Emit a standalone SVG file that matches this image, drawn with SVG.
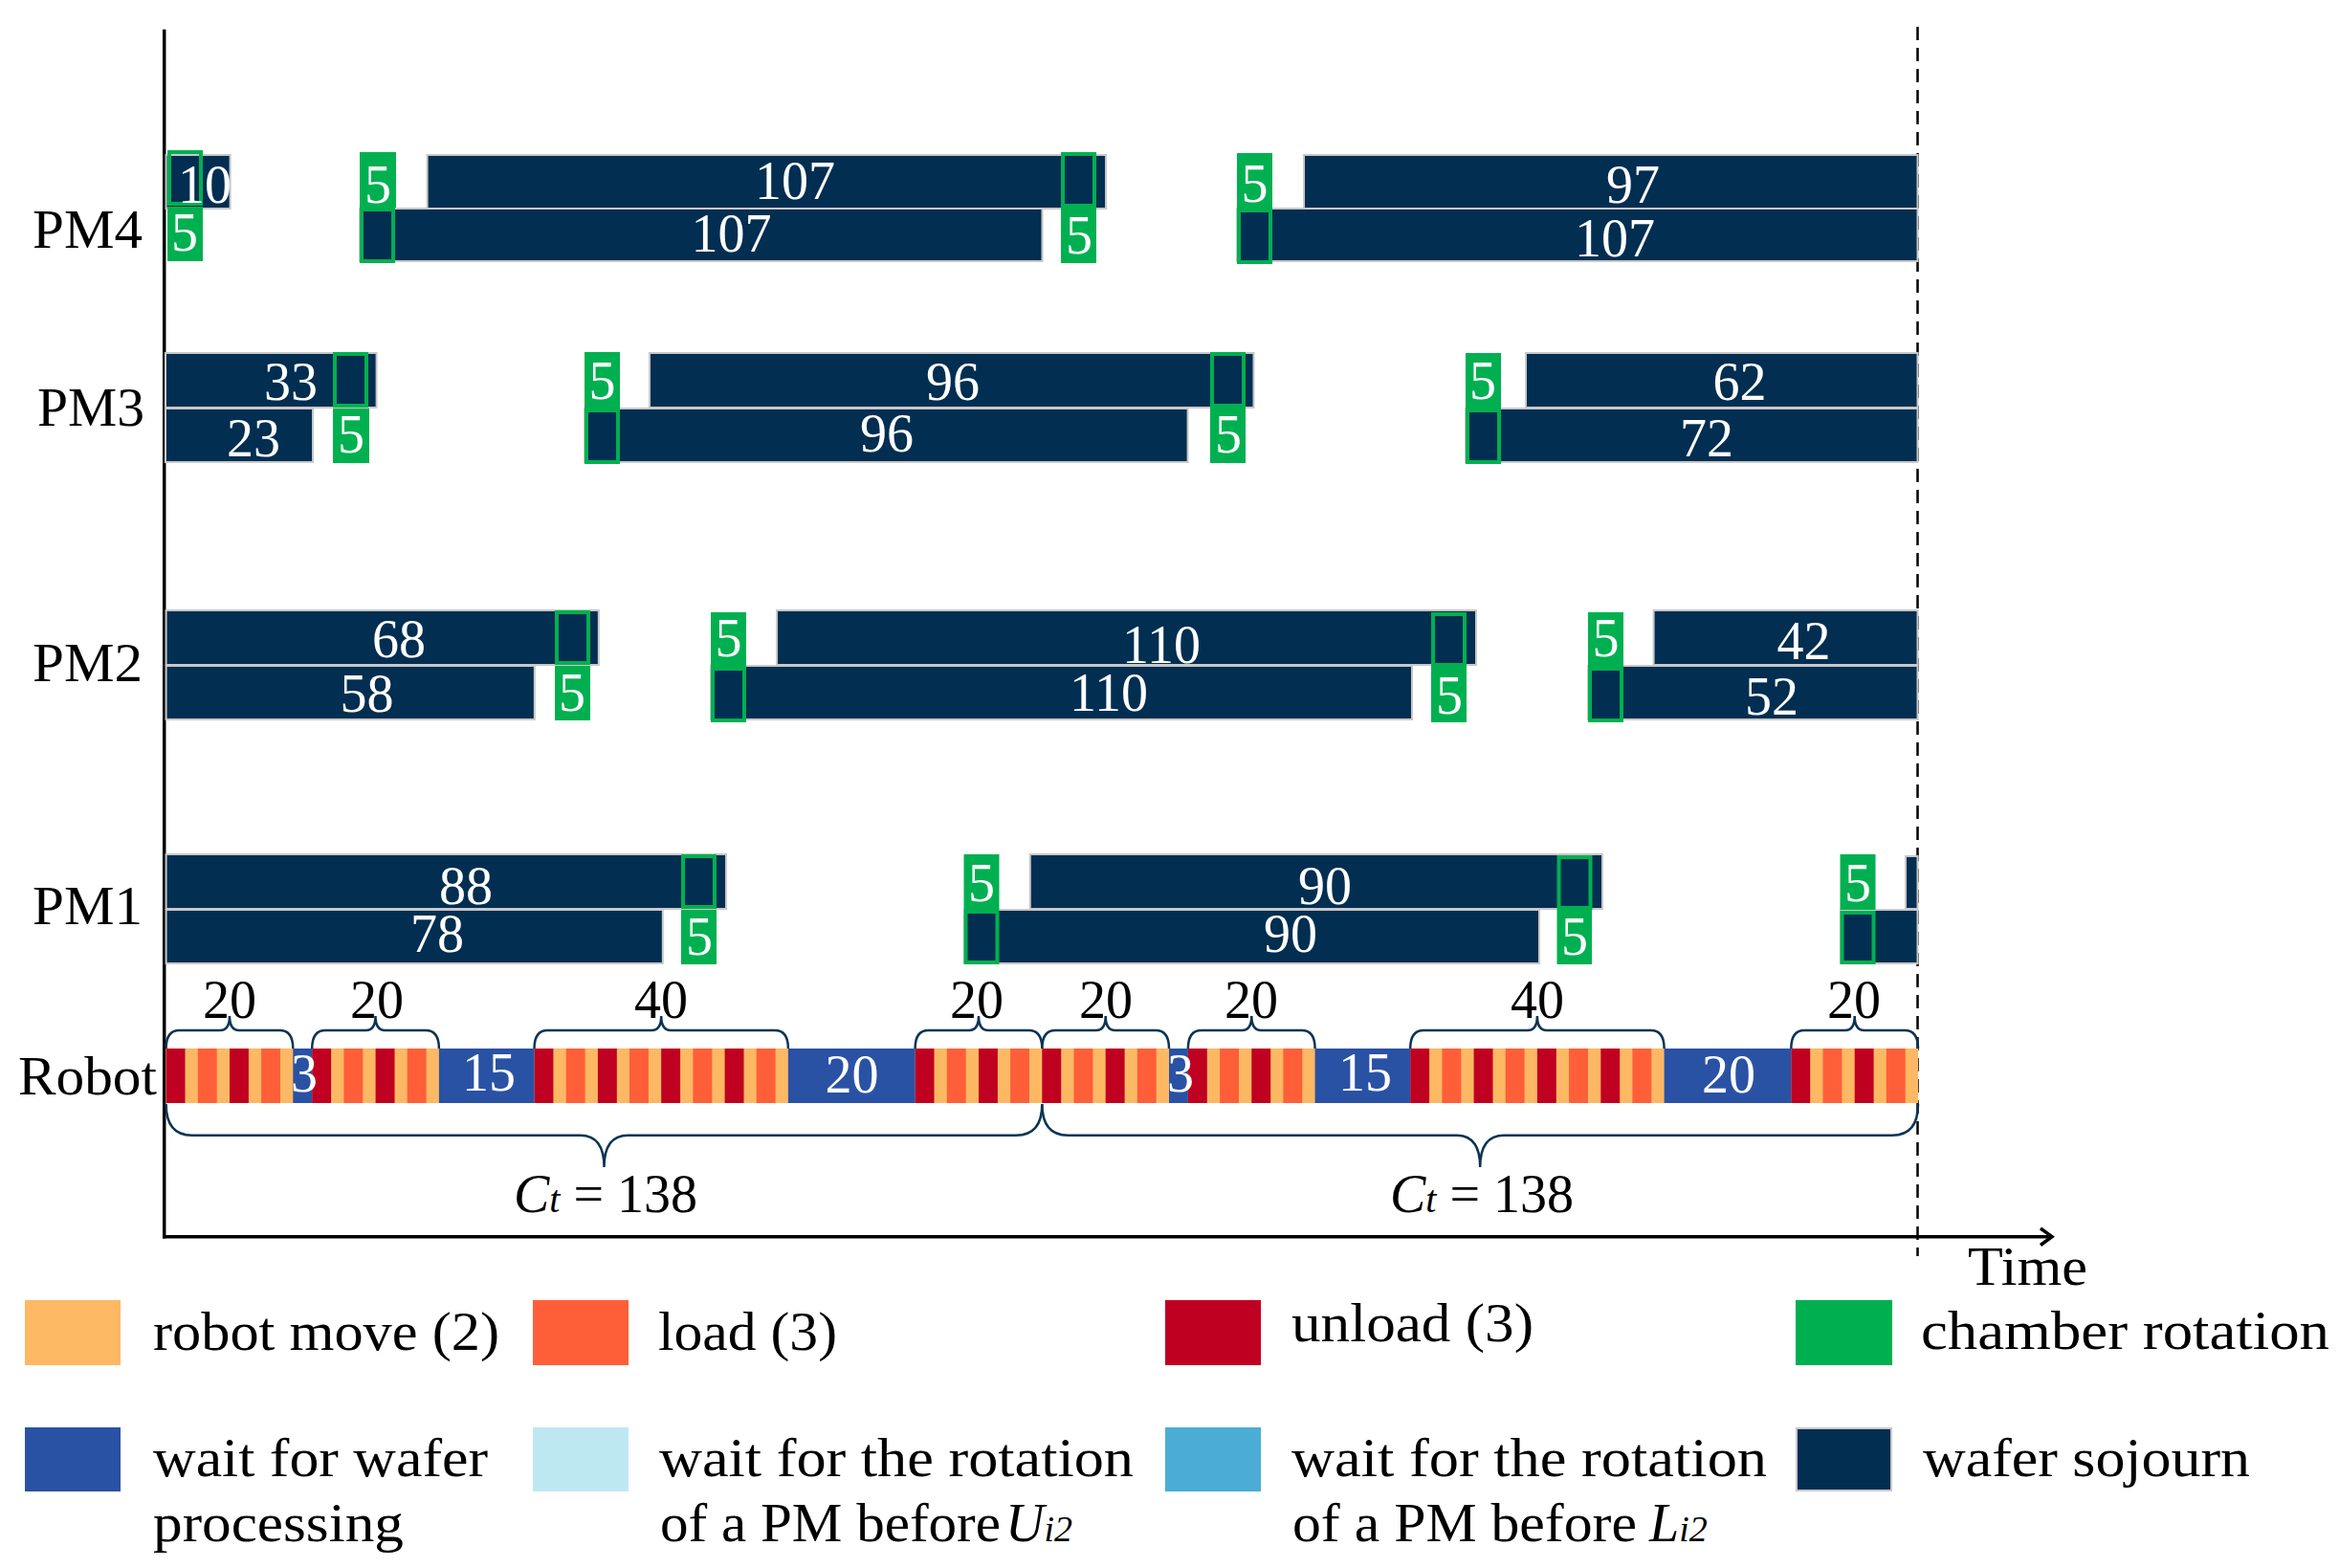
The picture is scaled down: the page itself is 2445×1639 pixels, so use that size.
<svg xmlns="http://www.w3.org/2000/svg" width="2445" height="1639" viewBox="0 0 2445 1639">
<style>
text{font-family:"Liberation Serif","Times New Roman",serif;font-size:56px;fill:#000}
.w{fill:#fff;text-anchor:middle}
.c{text-anchor:middle}
.sj{fill:#022E51;stroke:#C8C8C8;stroke-width:2}
.gr{fill:#00B050}
.go{fill:none;stroke:#00B050;stroke-width:4}
.mv{fill:#FDB863}
.ld{fill:#FF5F38}
.ul{fill:#C00021}
.wt{fill:#2A52A4}
.wu{fill:#BEE8F1}
.wl{fill:#4BADD5}
.br{fill:none;stroke:#0B3454;stroke-width:2.5}
.ax{fill:none;stroke:#000;stroke-width:3.5}
</style>
<rect width="2445" height="1639" fill="#fff"/>

<g id="axes">
<line class="ax" x1="171.7" y1="30.7" x2="171.7" y2="1294.5"/>
<line class="ax" x1="170" y1="1292.7" x2="2145" y2="1292.7"/>
<polyline class="ax" points="2133,1284 2145,1292.7 2133,1301.5"/>
<line x1="2004.5" y1="28" x2="2004.5" y2="1313" stroke="#000" stroke-width="2.5" stroke-dasharray="14 8"/>
<text x="2057" y="1343" textLength="125" lengthAdjust="spacingAndGlyphs">Time</text>
</g>

<g id="labels">
<text x="34" y="259" textLength="115" lengthAdjust="spacingAndGlyphs">PM4</text>
<text x="39" y="445" textLength="112" lengthAdjust="spacingAndGlyphs">PM3</text>
<text x="34" y="712" textLength="115" lengthAdjust="spacingAndGlyphs">PM2</text>
<text x="34" y="966" textLength="115" lengthAdjust="spacingAndGlyphs">PM1</text>
<text x="19" y="1144" textLength="145" lengthAdjust="spacingAndGlyphs">Robot</text>
</g>

<g id="pm4">
<rect class="sj" x="173.6" y="162" width="67" height="56"/>
<rect class="sj" x="446.6" y="162" width="709.4" height="56"/>
<rect class="sj" x="1363" y="162" width="641.5" height="56"/>
<rect class="sj" x="376" y="218" width="713.5" height="55"/>
<rect class="sj" x="1293" y="218" width="711.5" height="55"/>
<rect class="gr" x="175" y="216" width="37" height="57"/>
<rect class="gr" x="376" y="159" width="38" height="58"/>
<rect class="gr" x="1109" y="217" width="37" height="58"/>
<rect class="gr" x="1293" y="160" width="37" height="58"/>
<rect class="go" x="177" y="159" width="33" height="54"/>
<rect class="go" x="378" y="219" width="33" height="54"/>
<rect class="go" x="1111" y="161" width="33" height="54"/>
<rect class="go" x="1295" y="220" width="33" height="54"/>
<text class="w" x="214" y="212">10</text>
<text class="w" x="193" y="262">5</text>
<text class="w" x="395" y="212">5</text>
<text class="w" x="831" y="208">107</text>
<text class="w" x="764.5" y="263">107</text>
<text class="w" x="1128" y="265">5</text>
<text class="w" x="1311.5" y="211">5</text>
<text class="w" x="1707" y="212">97</text>
<text class="w" x="1688" y="268">107</text>
</g>

<g id="pm3">
<rect class="sj" x="173" y="369" width="220.6" height="57"/>
<rect class="sj" x="679" y="369" width="631.5" height="57"/>
<rect class="sj" x="1595" y="369" width="409.5" height="57"/>
<rect class="sj" x="173" y="427" width="154" height="56"/>
<rect class="sj" x="611" y="427" width="630.6" height="56"/>
<rect class="sj" x="1532" y="427" width="472.5" height="56"/>
<rect class="gr" x="348" y="427" width="38" height="57"/>
<rect class="gr" x="611" y="368" width="37" height="59"/>
<rect class="gr" x="1265" y="426" width="37" height="58"/>
<rect class="gr" x="1532" y="369" width="37" height="58"/>
<rect class="go" x="350" y="370" width="33" height="54"/>
<rect class="go" x="613" y="429" width="33" height="54"/>
<rect class="go" x="1267" y="370" width="33" height="54"/>
<rect class="go" x="1534" y="429" width="33" height="54"/>
<text class="w" x="304" y="418">33</text>
<text class="w" x="265" y="477">23</text>
<text class="w" x="367" y="473">5</text>
<text class="w" x="629.5" y="417">5</text>
<text class="w" x="996" y="418">96</text>
<text class="w" x="927" y="472">96</text>
<text class="w" x="1284" y="473">5</text>
<text class="w" x="1550" y="417">5</text>
<text class="w" x="1818.5" y="418">62</text>
<text class="w" x="1784" y="477">72</text>
</g>

<g id="pm2">
<rect class="sj" x="173.6" y="638" width="452.2" height="57"/>
<rect class="sj" x="812" y="638" width="731" height="57"/>
<rect class="sj" x="1728.6" y="638" width="275.9" height="57"/>
<rect class="sj" x="173.6" y="696" width="385.2" height="56"/>
<rect class="sj" x="743" y="696" width="733" height="56"/>
<rect class="sj" x="1660" y="696" width="344.5" height="56"/>
<rect class="gr" x="580" y="696" width="37" height="57"/>
<rect class="gr" x="743" y="640" width="37" height="57"/>
<rect class="gr" x="1496" y="697" width="37" height="58"/>
<rect class="gr" x="1660" y="640" width="37" height="57"/>
<rect class="go" x="582" y="640" width="33" height="53"/>
<rect class="go" x="745" y="699" width="33" height="54"/>
<rect class="go" x="1498" y="642" width="33" height="53"/>
<rect class="go" x="1662" y="699" width="33" height="54"/>
<text class="w" x="417" y="687">68</text>
<text class="w" x="383.6" y="744">58</text>
<text class="w" x="598" y="743">5</text>
<text class="w" x="761.5" y="686">5</text>
<text class="w" x="1214" y="693">110</text>
<text class="w" x="1159" y="743">110</text>
<text class="w" x="1515" y="746">5</text>
<text class="w" x="1678.5" y="686">5</text>
<text class="w" x="1885.5" y="689">42</text>
<text class="w" x="1852" y="747">52</text>
</g>

<g id="pm1">
<rect class="sj" x="173.6" y="893" width="585.4" height="57"/>
<rect class="sj" x="1076.8" y="893" width="598.2" height="57"/>
<rect class="sj" x="1992" y="895" width="12.5" height="55"/>
<rect class="sj" x="173.6" y="951" width="519.2" height="56"/>
<rect class="sj" x="1008" y="951" width="601" height="56"/>
<rect class="sj" x="1924" y="951" width="80.5" height="56"/>
<rect class="gr" x="712" y="951" width="37" height="57"/>
<rect class="gr" x="1007.5" y="893" width="37" height="58"/>
<rect class="gr" x="1627.5" y="951" width="36.5" height="57"/>
<rect class="gr" x="1923.5" y="893" width="37" height="58"/>
<rect class="go" x="714" y="895" width="33" height="53"/>
<rect class="go" x="1009.5" y="953" width="33" height="53"/>
<rect class="go" x="1629.5" y="896" width="33" height="53"/>
<rect class="go" x="1925.5" y="954" width="33" height="52"/>
<text class="w" x="487" y="945">88</text>
<text class="w" x="457" y="995">78</text>
<text class="w" x="731" y="998">5</text>
<text class="w" x="1026" y="942">5</text>
<text class="w" x="1385" y="945">90</text>
<text class="w" x="1349" y="995">90</text>
<text class="w" x="1646" y="998">5</text>
<text class="w" x="1942" y="942">5</text>
</g>

<g id="robot">
<rect class="mv" x="173.6" y="1096" width="831.4" height="57"/>
<rect class="mv" x="1005" y="1096" width="1000" height="57"/>
<g>
<rect class="ul" x="173.6" y="1096" width="19.9" height="57"/>
<rect class="ul" x="240" y="1096" width="19.9" height="57"/>
<rect class="ul" x="326.2" y="1096" width="19.9" height="57"/>
<rect class="ul" x="392.6" y="1096" width="19.9" height="57"/>
<rect class="ul" x="558.5" y="1096" width="19.9" height="57"/>
<rect class="ul" x="624.9" y="1096" width="19.9" height="57"/>
<rect class="ul" x="691.2" y="1096" width="19.9" height="57"/>
<rect class="ul" x="757.6" y="1096" width="19.9" height="57"/>
<rect class="ul" x="956.6" y="1096" width="19.9" height="57"/>
<rect class="ul" x="1023" y="1096" width="19.9" height="57"/>
<rect class="ul" x="1089.3" y="1096" width="19.9" height="57"/>
<rect class="ul" x="1155.7" y="1096" width="19.9" height="57"/>
<rect class="ul" x="1241.9" y="1096" width="19.9" height="57"/>
<rect class="ul" x="1308.3" y="1096" width="19.9" height="57"/>
<rect class="ul" x="1474.2" y="1096" width="19.9" height="57"/>
<rect class="ul" x="1540.6" y="1096" width="19.9" height="57"/>
<rect class="ul" x="1606.9" y="1096" width="19.9" height="57"/>
<rect class="ul" x="1673.3" y="1096" width="19.9" height="57"/>
<rect class="ul" x="1872.3" y="1096" width="19.9" height="57"/>
<rect class="ul" x="1938.7" y="1096" width="19.9" height="57"/>
</g>
<g>
<rect class="ld" x="206.8" y="1096" width="19.9" height="57"/>
<rect class="ld" x="273.1" y="1096" width="19.9" height="57"/>
<rect class="ld" x="359.4" y="1096" width="19.9" height="57"/>
<rect class="ld" x="425.7" y="1096" width="19.9" height="57"/>
<rect class="ld" x="591.7" y="1096" width="19.9" height="57"/>
<rect class="ld" x="658" y="1096" width="19.9" height="57"/>
<rect class="ld" x="724.4" y="1096" width="19.9" height="57"/>
<rect class="ld" x="790.7" y="1096" width="19.9" height="57"/>
<rect class="ld" x="989.8" y="1096" width="19.9" height="57"/>
<rect class="ld" x="1056.1" y="1096" width="19.9" height="57"/>
<rect class="ld" x="1122.5" y="1096" width="19.9" height="57"/>
<rect class="ld" x="1188.8" y="1096" width="19.9" height="57"/>
<rect class="ld" x="1275.1" y="1096" width="19.9" height="57"/>
<rect class="ld" x="1341.4" y="1096" width="19.9" height="57"/>
<rect class="ld" x="1507.4" y="1096" width="19.9" height="57"/>
<rect class="ld" x="1573.7" y="1096" width="19.9" height="57"/>
<rect class="ld" x="1640.1" y="1096" width="19.9" height="57"/>
<rect class="ld" x="1706.4" y="1096" width="19.9" height="57"/>
<rect class="ld" x="1905.5" y="1096" width="19.9" height="57"/>
<rect class="ld" x="1971.8" y="1096" width="19.9" height="57"/>
</g>
<g>
<rect class="wt" x="306.3" y="1096" width="19.9" height="57"/>
<rect class="wt" x="458.9" y="1096" width="99.6" height="57"/>
<rect class="wt" x="823.9" y="1096" width="132.7" height="57"/>
<rect class="wt" x="1222" y="1096" width="19.9" height="57"/>
<rect class="wt" x="1374.6" y="1096" width="99.6" height="57"/>
<rect class="wt" x="1739.6" y="1096" width="132.7" height="57"/>
</g>
<text class="w" x="318" y="1141">3</text>
<text class="w" x="511" y="1140">15</text>
<text class="w" x="890.5" y="1142">20</text>
<text class="w" x="1234" y="1141">3</text>
<text class="w" x="1427" y="1140">15</text>
<text class="w" x="1807" y="1142">20</text>
</g>

<g id="braces">
<path class="br" d="M173.6 1096 Q173.6 1077 187.6 1077 L230 1077 Q240 1077 240 1062 Q240 1077 250 1077 L292.3 1077 Q306.3 1077 306.3 1096"/>
<path class="br" d="M326.2 1096 Q326.2 1077 340.2 1077 L382.5 1077 Q392.5 1077 392.5 1062 Q392.5 1077 402.5 1077 L444.9 1077 Q458.9 1077 458.9 1096"/>
<path class="br" d="M558.5 1096 Q558.5 1077 572.5 1077 L681.2 1077 Q691.2 1077 691.2 1062 Q691.2 1077 701.2 1077 L809.9 1077 Q823.9 1077 823.9 1096"/>
<path class="br" d="M956.6 1096 Q956.6 1077 970.6 1077 L1013 1077 Q1023 1077 1023 1062 Q1023 1077 1033 1077 L1075.3 1077 Q1089.3 1077 1089.3 1096"/>
<path class="br" d="M1089.3 1096 Q1089.3 1077 1103.3 1077 L1145.7 1077 Q1155.7 1077 1155.7 1062 Q1155.7 1077 1165.7 1077 L1208 1077 Q1222 1077 1222 1096"/>
<path class="br" d="M1241.9 1096 Q1241.9 1077 1255.9 1077 L1298.3 1077 Q1308.3 1077 1308.3 1062 Q1308.3 1077 1318.3 1077 L1360.6 1077 Q1374.6 1077 1374.6 1096"/>
<path class="br" d="M1474.2 1096 Q1474.2 1077 1488.2 1077 L1596.9 1077 Q1606.9 1077 1606.9 1062 Q1606.9 1077 1616.9 1077 L1725.6 1077 Q1739.6 1077 1739.6 1096"/>
<path class="br" d="M1872.3 1096 Q1872.3 1077 1886.3 1077 L1928.7 1077 Q1938.7 1077 1938.7 1062 Q1938.7 1077 1948.7 1077 L1991 1077 Q2005 1077 2005 1096"/>
<path class="br" d="M173.6 1154 Q173.6 1186.7 200.6 1186.7 L606.5 1186.7 Q631.5 1186.7 631.5 1220 Q631.5 1186.7 656.5 1186.7 L1062.3 1186.7 Q1089.3 1186.7 1089.3 1154"/>
<path class="br" d="M1089.3 1154 Q1089.3 1186.7 1116.3 1186.7 L1522.2 1186.7 Q1547.2 1186.7 1547.2 1220 Q1547.2 1186.7 1572.2 1186.7 L1978 1186.7 Q2005 1186.7 2005 1154"/>
<text class="c" x="240" y="1064">20</text>
<text class="c" x="394" y="1064">20</text>
<text class="c" x="691" y="1064">40</text>
<text class="c" x="1021" y="1064">20</text>
<text class="c" x="1156" y="1064">20</text>
<text class="c" x="1308" y="1064">20</text>
<text class="c" x="1607" y="1064">40</text>
<text class="c" x="1938" y="1064">20</text>
<text class="c" x="633" y="1267"><tspan font-style="italic">C</tspan><tspan font-style="italic" font-size="40">t</tspan> = 138</text>
<text class="c" x="1549" y="1267"><tspan font-style="italic">C</tspan><tspan font-style="italic" font-size="40">t</tspan> = 138</text>
</g>

<g id="legend">
<g id="leg-move"><rect class="mv" x="26" y="1359" width="100" height="68"/><text x="160" y="1411" textLength="362" lengthAdjust="spacingAndGlyphs">robot move (2)</text></g>
<g id="leg-load"><rect class="ld" x="557" y="1359" width="100" height="68"/><text x="688" y="1411" textLength="187" lengthAdjust="spacingAndGlyphs">load (3)</text></g>
<g id="leg-unload"><rect class="ul" x="1218" y="1359" width="100" height="68"/><text x="1350" y="1402" textLength="253" lengthAdjust="spacingAndGlyphs">unload (3)</text></g>
<g id="leg-rot"><rect class="gr" x="1877" y="1359" width="101" height="68"/><text x="2008" y="1410" textLength="427" lengthAdjust="spacingAndGlyphs">chamber rotation</text></g>
<g id="leg-wait"><rect class="wt" x="26" y="1492" width="100" height="67"/><text x="160" y="1543" textLength="350" lengthAdjust="spacingAndGlyphs">wait for wafer</text><text x="160" y="1611" textLength="262" lengthAdjust="spacingAndGlyphs">processing</text></g>
<g id="leg-waitU"><rect class="wu" x="557" y="1492" width="100" height="67"/><text x="689" y="1543" textLength="496" lengthAdjust="spacingAndGlyphs">wait for the rotation</text><text x="690" y="1611" textLength="356" lengthAdjust="spacingAndGlyphs">of a PM before</text><text x="1051" y="1611"><tspan font-style="italic">U</tspan><tspan font-style="italic" font-size="38">i2</tspan></text></g>
<g id="leg-waitL"><rect class="wl" x="1218" y="1492" width="100" height="67"/><text x="1350" y="1543" textLength="497" lengthAdjust="spacingAndGlyphs">wait for the rotation</text><text x="1351" y="1611" textLength="360" lengthAdjust="spacingAndGlyphs">of a PM before</text><text x="1724" y="1611"><tspan font-style="italic">L</tspan><tspan font-style="italic" font-size="38">i2</tspan></text></g>
<g id="leg-sojourn"><rect class="sj" x="1878" y="1493" width="99" height="65"/><text x="2010" y="1543" textLength="342" lengthAdjust="spacingAndGlyphs">wafer sojourn</text></g>
</g>
</svg>
